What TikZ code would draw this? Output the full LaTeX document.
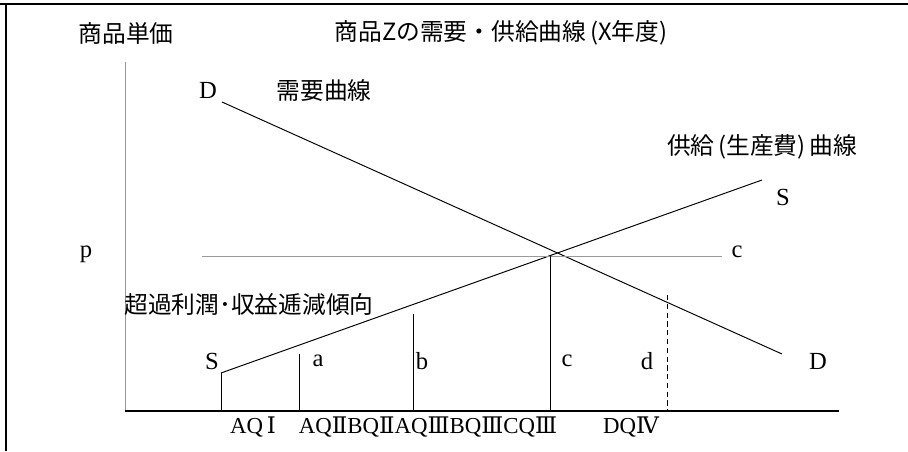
\documentclass[tikz,border=0pt]{standalone}
\usepackage{fontspec}
\setmainfont{Liberation Serif}
\newfontfamily\cjk{Noto Sans CJK JP}
\newfontfamily\rom{DejaVu Serif}
\usetikzlibrary{positioning}

\begin{document}
\begin{tikzpicture}[x=0.2mm,y=-0.2mm,line width=0.55pt,
  lat/.style={font=\fontsize{14}{15}\selectfont},
  qty/.style={font=\fontsize{13}{14}\selectfont},
  jp/.style={font=\cjk\fontsize{13.5}{14}\selectfont},
  axis/.style={line width=0.6pt},
  guide/.style={gray!80}]
 \useasboundingbox (0,0) rectangle (908,451);
 % frame
 \coordinate (fl) at (0,4);
 \coordinate (fr) at (908,4);
 \coordinate (fb) at (6,451);
 \draw[line width=0.35mm] (fl) -- (fr) (fb |- fl) -- (fb);
 % axes
 \coordinate (o) at (125,411);
 \coordinate (ytop) at (125,62);
 \coordinate (xend) at (839,411);
 \draw[guide] (ytop) -- (o);
 \draw[axis] (o) -- (xend);
 % curves
 \coordinate (d1) at (222,102);
 \coordinate (d2) at (782,354);
 \coordinate (s1) at (221,373);
 \coordinate (s2) at (762,180);
 \coordinate (c1) at (202,256);
 \coordinate (c2) at (722,256);
 \draw (d1) -- (d2);
 \draw (s1) -- (s2);
 \draw[guide] (c1) -- (c2);
 % quantities
 \coordinate (qa) at (299,354);
 \coordinate (qb) at (413,314);
 \coordinate (qc) at (550,256);
 \coordinate (qd) at (667,295);
 \draw (s1) -- (s1 |- o)
       (qa) -- (qa |- o)
       (qb) -- (qb |- o)
       (qc) -- (qc |- o);
 \draw[dashed,line width=0.4pt,dash pattern=on 3pt off 2pt] (qd) -- (qd |- o);
 % labels
 \node[jp] (price) at (126,33) {商品単価};
 \node[jp] (title) at (501,33) {商品Zの需要・供給曲線\,(X年度)};
 \node[lat] (dtop) at (208,90) {D};
 \node[jp] (demand) at (324,90) {需要曲線};
 \node[jp] (supply) at (762,147) {供給\,(生産費)\,曲線};
 \node[lat] (stop) at (783,197) {S};
 \node[lat] (p) at (86,254) {p};
 \node[lat] (cright) at (737,252) {c};
 \node[jp] (excess) at (249,305) {超過利潤･収益逓減傾向};
 \node[lat] (slow) at (212,361) {S};
 \node[lat] (la) at (318,361) {a};
 \node[lat] (lb) at (422,361) {b};
 \node[lat] (lc) at (567,361) {c};
 \node[lat] (ld) at (647,361) {d};
 \node[lat] (dlow) at (818,361) {D};
 \node[qty] (q1) at (253,427) {AQ\,{\rom Ⅰ}};
 \node[qty] (q23) at (428,427) {AQ{\rom Ⅱ}BQ{\rom Ⅱ}AQ{\rom Ⅲ}BQ{\rom Ⅲ}CQ{\rom Ⅲ}};
 \node[qty] (q4) at (631,427) {DQ{\rom Ⅳ}};
\end{tikzpicture}
\end{document}
